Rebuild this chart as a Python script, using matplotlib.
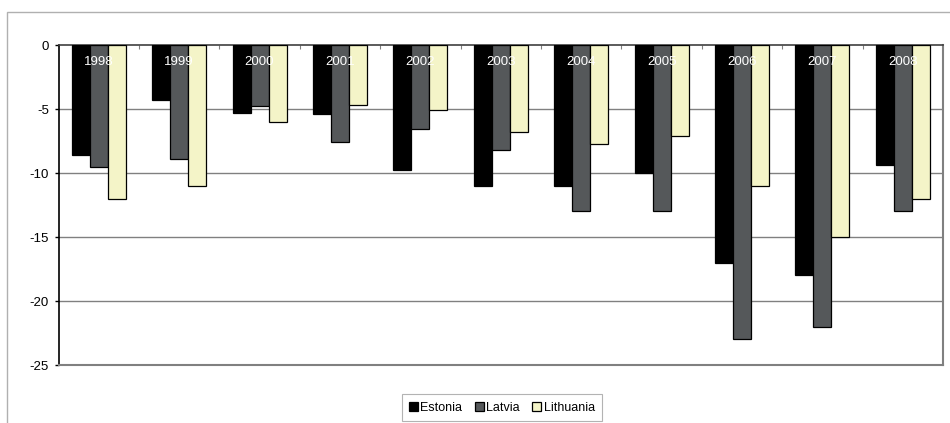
import matplotlib.pyplot as plt
import numpy as np
from matplotlib.patches import Rectangle

years = ["1998", "1999", "2000", "2001", "2002", "2003",
         "2004", "2005", "2006", "2007", "2008"]
estonia = [-8.6, -4.3, -5.3, -5.4, -9.8, -11.0, -11.0, -10.0, -17.0, -18.0, -9.4]
latvia = [-9.5, -8.9, -4.8, -7.6, -6.6, -8.2, -13.0, -13.0, -23.0, -22.0, -13.0]
lithuania = [-12.0, -11.0, -6.0, -4.7, -5.1, -6.8, -7.7, -7.1, -11.0, -15.0, -12.0]
yticks = [0, -5, -10, -15, -20, -25]


def main():
    plt.rcParams['font.family'] = ['Liberation Sans', 'DejaVu Sans']

    fig = plt.figure(figsize=(9.5, 4.23), dpi=100)
    ax = fig.add_axes([58.5 / 950, 1 - 365 / 423, (943 - 58.5) / 950, 320 / 423])

    x = np.arange(len(years))
    w = 0.224
    series = [(estonia, "#000000", "Estonia"),
              (latvia, "#55585a", "Latvia"),
              (lithuania, "#f4f4c8", "Lithuania")]
    for k, (vals, color, name) in enumerate(series):
        ax.bar(x + (k - 1) * w, vals, width=w, color=color,
               edgecolor="black", linewidth=0.9, label=name, zorder=3)

    ax.set_xlim(-0.5, len(years) - 0.5)
    ax.set_ylim(-25, 0)

    # horizontal gridlines
    for v in yticks[1:-1]:
        ax.axhline(v, color="#808080", linewidth=1, zorder=1)

    ax.set_yticks(yticks)
    ax.set_yticklabels([str(v) for v in yticks], fontsize=9.5)
    ax.tick_params(axis="y", direction="out", length=3, width=1, pad=4)

    # category axis sits at zero along the top
    ax.xaxis.tick_top()
    ax.set_xticks(np.arange(0.5, len(years) - 1, 1.0))
    ax.set_xticklabels([])
    ax.tick_params(axis="x", direction="in", length=3, width=0.8,
                   color="#808080")

    for i, yr in enumerate(years):
        ax.text(i, -1.33, yr, color="white", fontsize=9.5,
                ha="center", va="center", zorder=4)

    ax.spines["left"].set_color("black")
    ax.spines["left"].set_linewidth(1.2)
    ax.spines["top"].set_color("#404040")
    ax.spines["top"].set_linewidth(1.2)
    for s in ("right", "bottom"):
        ax.spines[s].set_color("#808080")
        ax.spines[s].set_linewidth(1.5)

    leg = fig.legend(loc="lower center", bbox_to_anchor=(502 / 950, 2 / 423),
                     ncol=3, fontsize=9, frameon=True, fancybox=False,
                     handlelength=0.7, handleheight=0.7, handletextpad=0.2,
                     columnspacing=1.0, borderpad=0.6, borderaxespad=0)
    leg.get_frame().set_edgecolor("#a0a0a0")
    leg.get_frame().set_linewidth(0.8)

    # chart area border
    fig.patches.append(Rectangle((7 / 950, -0.1), 1.0, 1.1 - 12 / 423,
                                 transform=fig.transFigure, fill=False,
                                 edgecolor="#b0b0b0", linewidth=1))

    fig.savefig("out.png", dpi=100)


if __name__ == "__main__":
    main()
